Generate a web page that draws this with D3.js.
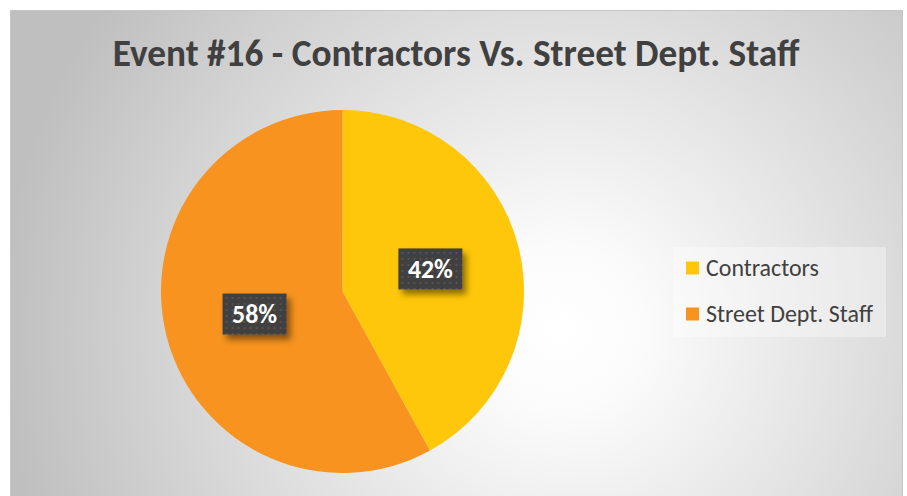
<!DOCTYPE html>
<html>
<head>
<meta charset="utf-8">
<script src="https://cdn.jsdelivr.net/npm/d3@7"></script>
<style>
  body { margin: 0; background: #fff; }
  svg { display: block; }
</style>
</head>
<body>
<div id="chart"></div>
<script>
// chart data
var categories = ["Contractors", "Street Dept. Staff"];
var shares = [42, 58];
var sliceColors = ["#FFC709", "#F7931E"];
var chartTitle = "Event #16 - Contractors Vs. Street Dept. Staff";

var W = 907, H = 496;
var font = "Carlito, 'Open Sans', 'Liberation Sans', sans-serif";

var svg = d3.select("#chart").append("svg")
  .attr("width", W).attr("height", H);

var defs = svg.append("defs");

// scale a text's font so it fills the width it has in the reference
function fitWidth(sel, size, target) {
  sel.attr("font-size", size);
  var w = sel.node().getComputedTextLength();
  sel.attr("font-size", size * target / w);
}

// background gradient, light centre, grey corners
var bg = defs.append("radialGradient").attr("id", "bgGrad")
  .attr("gradientUnits", "userSpaceOnUse")
  .attr("cx", 560).attr("cy", 330).attr("r", 560);
bg.append("stop").attr("offset", "0").attr("stop-color", "#ffffff");
bg.append("stop").attr("offset", "0.15").attr("stop-color", "#fbfbfb");
bg.append("stop").attr("offset", "1").attr("stop-color", "#bfbfbf");

// dotted pattern for the data label boxes
var pat = defs.append("pattern").attr("id", "dots")
  .attr("patternUnits", "userSpaceOnUse")
  .attr("width", 6).attr("height", 6);
pat.append("rect").attr("width", 6).attr("height", 6).attr("fill", "#3f3f3f");
pat.append("rect").attr("x", 1).attr("y", 1).attr("width", 2).attr("height", 2).attr("fill", "#555555");

var sh = defs.append("filter").attr("id", "shadow")
  .attr("x", "-30%").attr("y", "-30%").attr("width", "170%").attr("height", "180%");
sh.append("feDropShadow").attr("dx", 4).attr("dy", 5).attr("stdDeviation", 3)
  .attr("flood-color", "#000").attr("flood-opacity", 0.45);

// chart area with border
svg.append("rect")
  .attr("x", 10.5).attr("y", 10.5).attr("width", 892).attr("height", 500)
  .attr("fill", "url(#bgGrad)").attr("stroke", "#c6c6c6").attr("stroke-width", 1);

// title
var title = svg.append("text")
  .attr("x", 456).attr("y", 66)
  .attr("text-anchor", "middle")
  .attr("font-family", font).attr("font-weight", "bold")
  .attr("fill", "#404040")
  .text(chartTitle);
fitWidth(title, 30, 687);

// pie
var cx = 342.5, cy = 291.5, R = 181.5;
var pie = d3.pie().sort(null).value(function (d) { return d; });
var arc = d3.arc().innerRadius(0).outerRadius(R);
var arcs = pie(shares);

var g = svg.append("g").attr("transform", "translate(" + cx + "," + cy + ")");
g.selectAll("path").data(arcs).enter().append("path")
  .attr("d", arc)
  .attr("fill", function (d, i) { return sliceColors[i]; });

// data labels
var labelArc = d3.arc().innerRadius(R * 0.5).outerRadius(R * 0.5);
var bw = 64, bh = 41;
var lab = g.selectAll("g.lab").data(arcs).enter().append("g")
  .attr("class", "lab")
  .attr("transform", function (d) {
    var c = labelArc.centroid(d);
    return "translate(" + c[0] + "," + c[1] + ")";
  });
lab.append("rect")
  .attr("x", -bw / 2).attr("y", -bh / 2).attr("width", bw).attr("height", bh)
  .attr("fill", "url(#dots)").attr("filter", "url(#shadow)");
lab.append("text")
  .attr("text-anchor", "middle").attr("dy", "0.36em")
  .attr("font-family", font).attr("font-weight", "bold")
  .attr("fill", "#ffffff")
  .text(function (d) { return d.data + "%"; })
  .each(function () { fitWidth(d3.select(this), 21, 45); });

// legend
var leg = svg.append("g");
leg.append("rect")
  .attr("x", 673).attr("y", 247).attr("width", 213).attr("height", 90)
  .attr("fill", "#ffffff").attr("fill-opacity", 0.35);
var ly = d3.scalePoint().domain(categories).range([268, 314]);
var legWidths = [113, 167];
var item = leg.selectAll("g.item").data(categories).enter().append("g")
  .attr("class", "item")
  .attr("transform", function (d) { return "translate(686," + ly(d) + ")"; });
item.append("rect")
  .attr("x", 0).attr("y", -6.5).attr("width", 13).attr("height", 13)
  .attr("fill", function (d, i) { return sliceColors[i]; });
item.append("text")
  .attr("x", 20).attr("dy", "0.35em")
  .attr("font-family", font).attr("fill", "#404040")
  .text(function (d) { return d; })
  .each(function (d, i) { fitWidth(d3.select(this), 19, legWidths[i]); });
</script>
</body>
</html>
